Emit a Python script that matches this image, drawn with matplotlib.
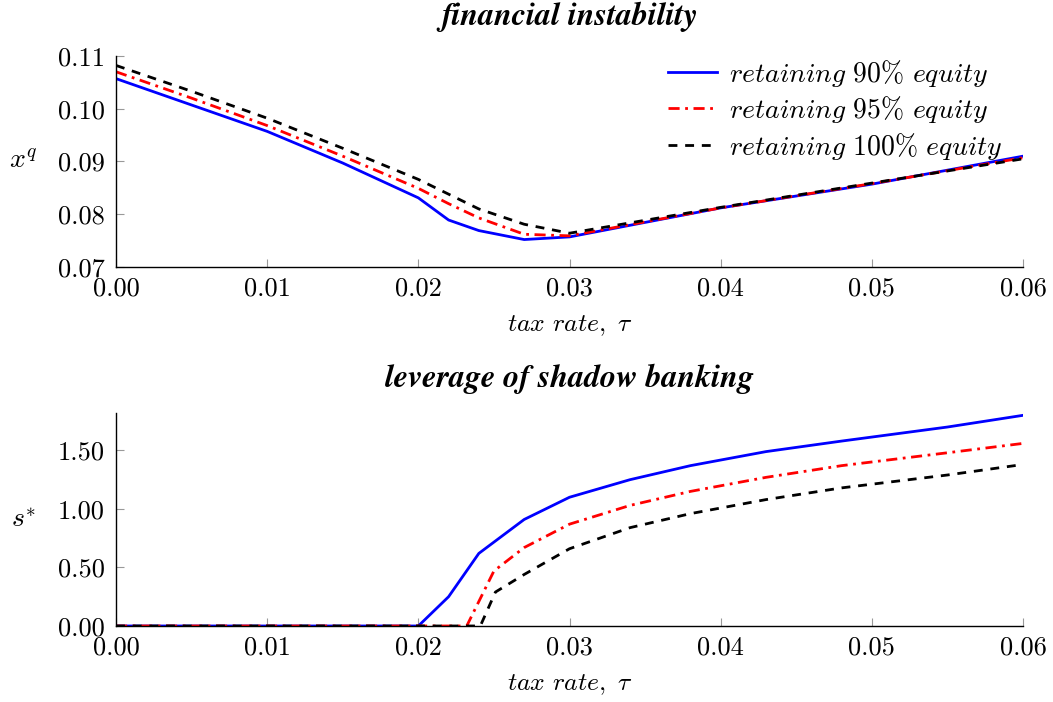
import matplotlib.pyplot as plt
from matplotlib.ticker import FuncFormatter

plt.rcParams['mathtext.fontset'] = 'cm'
plt.rcParams['font.family'] = 'cmr10'
plt.rcParams['axes.formatter.use_mathtext'] = True

# financial instability x^q against tax rate
x90_q = [0.0, 0.005, 0.01, 0.015, 0.02, 0.022, 0.024, 0.027, 0.03, 0.04, 0.05, 0.06]
q90 = [0.1057, 0.1007, 0.0957, 0.0897, 0.0831, 0.0789, 0.0769, 0.0752, 0.0757, 0.0812, 0.0857, 0.0910]
x95_q = [0.0, 0.005, 0.01, 0.015, 0.02, 0.022, 0.024, 0.027, 0.03, 0.04, 0.05, 0.06]
q95 = [0.1070, 0.1020, 0.0968, 0.0910, 0.0849, 0.0820, 0.0793, 0.0762, 0.0759, 0.0812, 0.0858, 0.0907]
x100_q = [0.0, 0.005, 0.01, 0.015, 0.02, 0.022, 0.024, 0.027, 0.03, 0.04, 0.05, 0.06]
q100 = [0.1082, 0.1033, 0.0982, 0.0925, 0.0866, 0.0838, 0.0810, 0.0781, 0.0764, 0.0813, 0.0859, 0.0905]

# leverage of shadow banking s*
x90_s = [0.0, 0.02, 0.022, 0.024, 0.027, 0.03, 0.034, 0.038, 0.043, 0.048, 0.055, 0.06]
s90 = [0.0, 0.0, 0.25, 0.62, 0.91, 1.10, 1.25, 1.37, 1.49, 1.58, 1.70, 1.80]
x95_s = [0.0, 0.0232, 0.025, 0.027, 0.03, 0.034, 0.038, 0.043, 0.048, 0.055, 0.06]
s95 = [0.0, 0.0, 0.47, 0.67, 0.87, 1.03, 1.15, 1.27, 1.37, 1.48, 1.56]
x100_s = [0.0, 0.0241, 0.0251, 0.027, 0.03, 0.034, 0.038, 0.043, 0.048, 0.055, 0.06]
s100 = [0.0, 0.0, 0.29, 0.44, 0.66, 0.84, 0.96, 1.08, 1.18, 1.29, 1.38]

labels = [r'$retaining\ 90\%\ equity$',
          r'$retaining\ 95\%\ equity$',
          r'$retaining\ 100\%\ equity$']
styles = [dict(color='blue', lw=2.0, ls='-'),
          dict(color='red', lw=2.0, ls=(0, (4.0, 2.0, 1, 2.0))),
          dict(color='black', lw=2.0, ls=(0, (3.2, 2.8)))]

xticks = [0.0, 0.01, 0.02, 0.03, 0.04, 0.05, 0.06]
fmt2 = FuncFormatter(lambda v, p: f'{v:.2f}')

fig = plt.figure(figsize=(10.53, 7.02), dpi=100)
ax1 = fig.add_axes([0.1102, 0.6197, 0.8613, 0.3006])
ax2 = fig.add_axes([0.1102, 0.1083, 0.8613, 0.3034])

for (xs, ys), lab, st in zip([(x90_q, q90), (x95_q, q95), (x100_q, q100)], labels, styles):
    ax1.plot(xs, ys, label=lab, **st)
for (xs, ys), st in zip([(x90_s, s90), (x95_s, s95), (x100_s, s100)], styles):
    ax2.plot(xs, ys, **st)

title_font = dict(family='STIXGeneral', style='italic', weight='bold', fontsize=23)

for ax in (ax1, ax2):
    ax.set_xlim(0, 0.06)
    ax.set_xticks(xticks)
    ax.spines['top'].set_visible(False)
    ax.spines['right'].set_visible(False)
    ax.spines['left'].set_linewidth(1.0)
    ax.spines['bottom'].set_linewidth(1.0)
    ax.tick_params(direction='in', length=6, color='0.6', width=0.8, labelsize=19)
    ax.tick_params(axis='x', pad=7)
    ax.tick_params(axis='y', pad=8)
    ax.xaxis.set_major_formatter(fmt2)
    ax.yaxis.set_major_formatter(fmt2)
    ax.set_xlabel(r'$tax\ rate,\ \tau$', fontsize=18.5, labelpad=9)

ax1.set_ylim(0.07, 0.11)
ax1.set_yticks([0.07, 0.08, 0.09, 0.10, 0.11])
ax1.set_ylabel(r'$x^q$', fontsize=20, rotation=0, ha='center', va='center')
ax1.yaxis.set_label_coords(-0.102, 0.5)
ax1.set_title('financial instability', pad=22, **title_font)
ax1.legend(loc='upper right', frameon=False, fontsize=20, handlelength=1.75,
           handletextpad=0.45, labelspacing=0.2, borderaxespad=0.0,
           bbox_to_anchor=(0.99, 1.045))

ax2.set_ylim(0, 1.82)
ax2.set_yticks([0.0, 0.5, 1.0, 1.5])
ax2.set_ylabel(r'$s^{*}$', fontsize=20, rotation=0, ha='center', va='center')
ax2.yaxis.set_label_coords(-0.102, 0.5)
ax2.set_title('leverage of shadow banking', pad=19, **title_font)

fig.savefig('out.png', dpi=100)
